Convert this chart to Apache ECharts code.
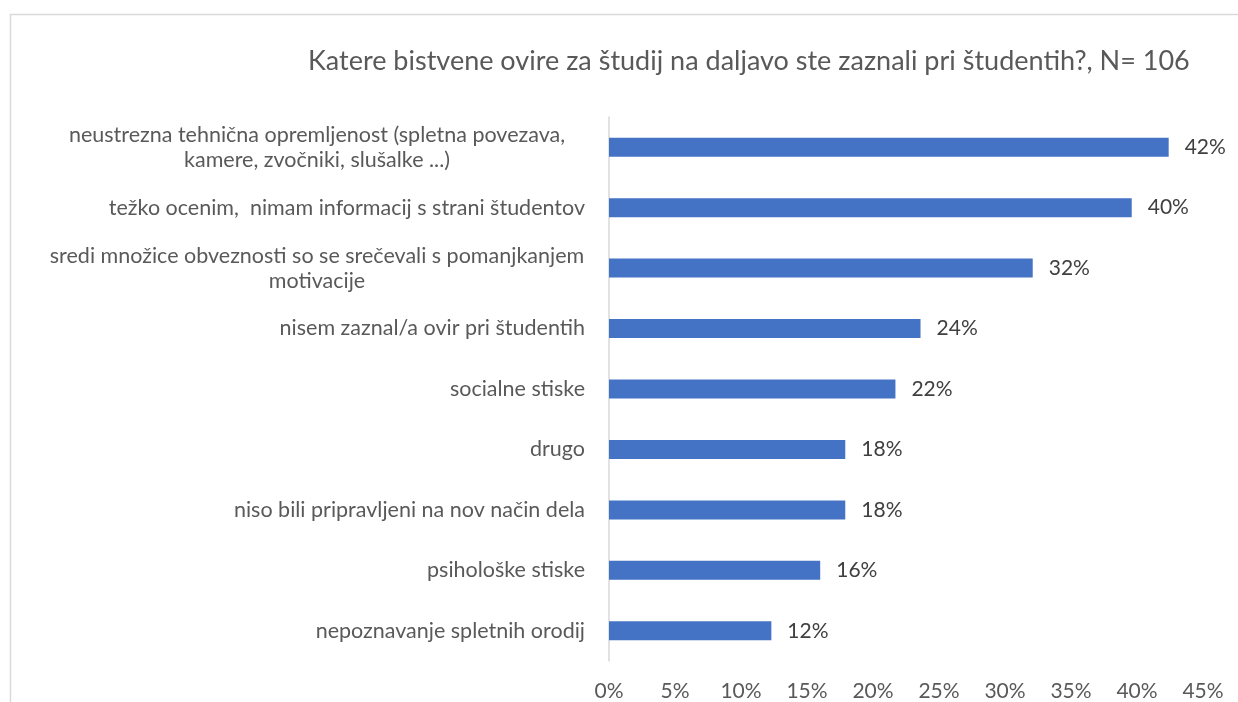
<!DOCTYPE html>
<html>
<head>
<meta charset="utf-8">
<script src="https://cdn.jsdelivr.net/npm/echarts@6/dist/echarts.min.js"></script>
<style>
  html, body { margin: 0; padding: 0; background: #fff; }
  #chart { width: 1238px; height: 702px; }
</style>
</head>
<body>
<div id="chart"></div>
<script>
var titleText = 'Katere bistvene ovire za študij na daljavo ste zaznali pri študentih?, N= 106';

// odgovori (od zgoraj navzdol)
var categories = [
    'neustrezna tehnična opremljenost (spletna povezava,\nkamere, zvočniki, slušalke ...)',
    'težko ocenim,  nimam informacij s strani študentov',
    'sredi množice obveznosti so se srečevali s pomanjkanjem\nmotivacije',
    'nisem zaznal/a ovir pri študentih',
    'socialne stiske',
    'drugo',
    'niso bili pripravljeni na nov način dela',
    'psihološke stiske',
    'nepoznavanje spletnih orodij'
];
// delež (%)
var values = [42.4, 39.6, 32.1, 23.6, 21.7, 17.9, 17.9, 16.0, 12.3];

var xTicks = [0, 5, 10, 15, 20, 25, 30, 35, 40, 45];

var font = 'Lato, "Open Sans", sans-serif';
var txt = '#595959';

var myChart = echarts.init(document.getElementById('chart'));

var option = {
    animation: false,
    textStyle: { fontFamily: font },
    title: {
        text: titleText,
        left: 303,
        top: 43,
        textStyle: { fontSize: 27, fontWeight: 'normal', color: txt, fontFamily: font }
    },
    graphic: [{
        type: 'rect',
        left: 8,
        top: 12,
        shape: { width: 1300, height: 800 },
        style: { fill: 'none', stroke: '#d9d9d9', lineWidth: 1.5 },
        silent: true
    }],
    grid: { left: 609, right: 35, top: 117, bottom: 40 },
    xAxis: {
        type: 'value',
        min: xTicks[0],
        max: xTicks[xTicks.length - 1],
        interval: xTicks[1] - xTicks[0],
        splitLine: { show: false },
        axisLine: { show: false },
        axisTick: { show: false },
        axisLabel: {
            formatter: '{value}%',
            fontSize: 21,
            color: txt,
            margin: 20,
            fontFamily: font
        }
    },
    yAxis: {
        type: 'category',
        inverse: true,
        data: categories,
        axisLine: { show: true, lineStyle: { color: '#d9d9d9', width: 1.5 } },
        axisTick: { show: false },
        axisLabel: {
            margin: 24,
            fontSize: 21.5,
            color: txt,
            lineHeight: 25,
            fontFamily: font,
            formatter: function (v) {
                if (v.indexOf('\n') < 0) return v;
                return v.split('\n').map(function (l) {
                    return '{c|' + l + '}';
                }).join('\n');
            },
            rich: {
                c: { width: 536, align: 'center', fontSize: 21.5, color: txt, lineHeight: 25, fontFamily: font }
            }
        }
    },
    series: [{
        type: 'bar',
        data: values,
        barWidth: 19,
        itemStyle: { color: '#4472C4' },
        label: {
            show: true,
            position: 'right',
            distance: 16,
            fontSize: 21,
            color: '#404040',
            fontFamily: font,
            formatter: function (p) {
                return Math.round(p.value) + '%';
            }
        }
    }]
};
myChart.setOption(option);
</script>
</body>
</html>
